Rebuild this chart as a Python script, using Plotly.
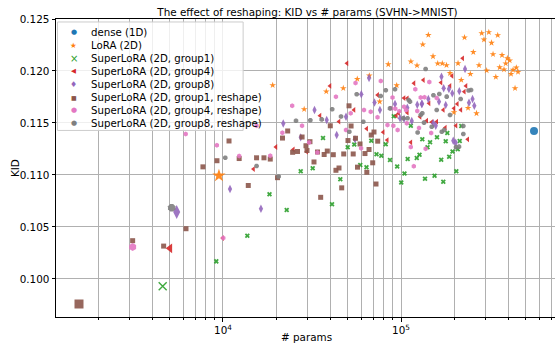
import numpy as np
import plotly.graph_objects as go

# ---------------- data ----------------
dense_params = [558600]
dense_kid = [0.11423]

lora_params = [142400, 132500, 113600, 123000, 151300, 160800, 170600, 180100, 209100, 227400,
               284000, 311400, 349400, 292500, 322500, 254800, 328800, 369400, 395600, 408000,
               387400, 358400, 378900, 444300, 425900, 454300, 414800, 302900, 340900, 274300,
               245200, 217900, 188500, 437100, 265500, 238000, 198500, 94570, 84830, 66380,
               56800, 47400, 38040, 28580, 75890, 19020, 9490]
lora_kid = [0.12346, 0.12255, 0.12091, 0.12053, 0.12141, 0.12072, 0.12072, 0.12055, 0.12074, 0.12322,
            0.12363, 0.12373, 0.12344, 0.12301, 0.12271, 0.12181, 0.12161, 0.12152, 0.12122, 0.12101,
            0.12072, 0.12034, 0.12014, 0.12032, 0.12010, 0.11990, 0.11971, 0.12005, 0.11942, 0.12055,
            0.11971, 0.11913, 0.11979, 0.11834, 0.11593, 0.11644, 0.11603, 0.11861, 0.12064, 0.11955,
            0.11923, 0.11834, 0.11803, 0.11632, 0.11705, 0.11863, 0.10993]

g1_params = [36470, 27330, 31910, 50190, 54630, 59040, 63980, 72840, 77520, 82050,
             68080, 86740, 95190, 104600, 109000, 100300, 45610, 91090, 113500, 122600,
             127000, 131700, 140900, 145600, 159300, 154300, 178300, 182000, 168200, 186500,
             194700, 208300, 213700, 218100, 136400, 172800, 204500, 40960, 22800, 18250,
             13700, 9170, 4584]
g1_kid = [0.11355, 0.11035, 0.11064, 0.11266, 0.11293, 0.11096, 0.11075, 0.11200, 0.11184, 0.11295,
          0.11329, 0.11144, 0.11081, 0.11014, 0.11153, 0.10927, 0.10958, 0.11565, 0.11474, 0.11163,
          0.11195, 0.11344, 0.11266, 0.11314, 0.11362, 0.10993, 0.11325, 0.11404, 0.11147, 0.11176,
          0.11226, 0.11247, 0.11327, 0.11471, 0.10964, 0.10935, 0.11035, 0.10718, 0.10663, 0.10815,
          0.10416, 0.10169, 0.09929]

g4_params = [49720, 39910, 35070, 54430, 73980, 44840, 64170, 79430, 83720, 29530,
             104000, 97060, 94120, 118300, 133500, 167800, 193500, 222000, 188500, 231800,
             226800, 108500, 143700, 172800, 207100, 198500, 216900, 108500, 127900, 139500,
             148800, 158700, 177400, 203700, 113600, 237100, 19840, 24830, 14840, 9961, 5038]
g4_kid = [0.12074, 0.11856, 0.11570, 0.11625, 0.11769, 0.11514, 0.11445, 0.11411, 0.11336, 0.11224,
          0.11740, 0.11593, 0.11570, 0.11882, 0.11913, 0.11889, 0.11952, 0.12122, 0.11856, 0.11856,
          0.11801, 0.11737, 0.11689, 0.11625, 0.11683, 0.11641, 0.11625, 0.11599, 0.11560, 0.11522,
          0.11509, 0.11512, 0.11455, 0.11474, 0.11314, 0.11343, 0.11269, 0.11245, 0.11057, 0.10393, 0.10294]

g8_params = [66130, 32670, 21810, 43520, 49090, 59830, 71000, 76170, 92520, 98760,
             104000, 38250, 55130, 130700, 168800, 228900, 173700, 185900, 194100, 212500,
             252200, 258100, 240900, 142400, 131300, 123400, 163500, 178300, 108500, 114900,
             151900, 156700, 196600, 202900, 27330, 10950, 16340, 5494]
g8_kid = [0.11933, 0.11625, 0.11495, 0.11384, 0.11560, 0.11776, 0.11697, 0.11625, 0.11683, 0.11545,
          0.11541, 0.11529, 0.11343, 0.11683, 0.11945, 0.12019, 0.11834, 0.11827, 0.11785, 0.11806,
          0.11731, 0.11665, 0.11695, 0.11731, 0.11685, 0.11676, 0.11705, 0.11673, 0.11647, 0.11519,
          0.11497, 0.11474, 0.11329, 0.11310, 0.11362, 0.10865, 0.10675, 0.10644]

g1r_params = [10810, 9250, 7716, 12330, 15440, 16990, 18430, 21590, 23090, 24620,
              26220, 29250, 29640, 20240, 13870, 51040, 52420, 40070, 27820, 30800,
              33970, 38540, 37010, 41650, 47670, 53890, 55530, 58860, 66130, 62750,
              73980, 68030, 70510, 50380, 32450, 43100, 44840, 56960, 64260, 69350,
              46440, 35380, 72360, 6197, 3108, 4641, 1553]
g1r_kid = [0.11327, 0.11137, 0.11078, 0.11158, 0.11165, 0.11165, 0.11153, 0.11355, 0.11423, 0.11218,
           0.11226, 0.11281, 0.11235, 0.10974, 0.10899, 0.11665, 0.11471, 0.11473, 0.11365, 0.11320,
           0.11221, 0.11230, 0.11197, 0.11195, 0.11202, 0.11202, 0.11353, 0.11298, 0.11245, 0.11206,
           0.11325, 0.11384, 0.11413, 0.11331, 0.11125, 0.11045, 0.11067, 0.11075, 0.11026, 0.11117,
           0.10876, 0.10785, 0.10913, 0.10483, 0.10368, 0.10316, 0.09759]

g4r_params = [6174, 9240, 12330, 15440, 18430, 24470, 21560, 27800, 30470, 33910,
              43100, 55530, 76990, 61960, 52170, 67580, 73790, 83950, 87900, 92920,
              104000, 97800, 106700, 89600, 120300, 144200, 129000, 135500, 158700, 90540,
              95750, 49090, 59680, 113500, 118000, 147700, 126200, 137500, 123400, 107800,
              3108, 10040]
g4r_kid = [0.11394, 0.11285, 0.11182, 0.11473, 0.11184, 0.11665, 0.11406, 0.11474, 0.11312, 0.11216,
           0.11753, 0.11885, 0.11904, 0.11625, 0.11593, 0.11608, 0.11555, 0.11481, 0.11641, 0.11636,
           0.11657, 0.11612, 0.11625, 0.11745, 0.11824, 0.11894, 0.11745, 0.11747, 0.11740, 0.11474,
           0.11432, 0.11432, 0.11256, 0.11269, 0.11084, 0.11404, 0.11452, 0.11253, 0.11615, 0.11497,
           0.10307, 0.10393]

g8r_params = [10300, 15440, 25710, 20550, 137500, 41060, 30950, 35850, 46030, 56380,
              61400, 82120, 92520, 76890, 86740, 103000, 108800, 51250, 110400, 152100,
              164100, 180600, 216300, 239700, 247400, 112300, 129000, 131700, 158700, 188500,
              148800, 134700, 169400, 174800, 223900, 124000, 223900, 203700, 211700, 5150]
g8r_kid = [0.11165, 0.11086, 0.11522, 0.10985, 0.12019, 0.11632, 0.11526, 0.11535, 0.11562, 0.11776,
           0.11512, 0.11815, 0.11824, 0.11759, 0.11641, 0.11545, 0.11545, 0.11416, 0.11721, 0.11767,
           0.11779, 0.11753, 0.11731, 0.11812, 0.11817, 0.11705, 0.11577, 0.11593, 0.11625, 0.11577,
           0.11464, 0.11503, 0.11416, 0.11432, 0.11394, 0.11408, 0.11471, 0.11266, 0.11272, 0.10685]

series_names = ["dense (1D)", "LoRA (2D)", "SuperLoRA (2D, group1)", "SuperLoRA (2D, group4)",
                "SuperLoRA (2D, group8)", "SuperLoRA (2D, group1, reshape)",
                "SuperLoRA (2D, group4, reshape)", "SuperLoRA (2D, group8, reshape)"]
x_ticks = [1e4, 1e5]
x_tick_labels = ["10<sup>4</sup>", "10<sup>5</sup>"]
y_ticks = [0.100, 0.105, 0.110, 0.115, 0.120, 0.125]
chart_title = "The effect of reshaping: KID vs # params (SVHN->MNIST)"
x_title = "# params"
y_title = "KID"

# ---------------- styling ----------------
colors = ["#1f77b4", "#ff7f0e", "#2ca02c", "#d62728", "#9467bd", "#8c564b", "#e377c2", "#7f7f7f"]
symbols = ["circle", "star", "x", "triangle-left", "diamond-tall", "square", "hexagon", "octagon"]
big_symbols = ["circle", "star", "x-thin", "triangle-left", "diamond-tall", "square", "hexagon", "octagon"]
small_size = [8, 5, 4.5, 5, 6, 5, 5, 5]
big_size = [8, 10, 8, 8.5, 10, 9, 8, 8]
# legend glyphs (drawn as text so they sit above the legend box)
legend_glyphs = ["\u25CF", "\u2605", "\u00D7", "\u25C0", "\u2666", "\u25A0", "\u25CF", "\u25CF"]
legend_glyph_size = [7, 7.5, 10, 6.5, 8, 6, 7, 7]

all_params = [dense_params, lora_params, g1_params, g4_params, g8_params, g1r_params, g4r_params, g8r_params]
all_kid = [dense_kid, lora_kid, g1_kid, g4_kid, g8_kid, g1r_kid, g4r_kid, g8r_kid]

fig = go.Figure()
for i, name in enumerate(series_names):
    p = np.array(all_params[i], dtype=float)
    is_big = p == p.min()
    sizes = np.where(is_big, big_size[i], small_size[i])
    syms = np.where(is_big, big_symbols[i], symbols[i])
    lw = np.where(syms == "x-thin", 1.4, 0)
    fig.add_trace(go.Scatter(
        x=all_params[i], y=all_kid[i], mode="markers", name=name,
        marker=dict(color=colors[i], size=sizes.tolist(), symbol=syms.tolist(), opacity=0.9,
                    line=dict(color=colors[i], width=lw.tolist())),
        showlegend=False,
    ))

# minor grid positions
minor_vals = [m * 10 ** e for e in (3, 4, 5) for m in range(2, 10) if m * 10 ** e < 8e5]

# ---------------- manual legend (compact, matplotlib-like) ----------------
leg_step = 0.0438
leg_first = 0.956
leg_ys = [leg_first - k * leg_step for k in range(len(series_names))]
annotations = []
for k, name in enumerate(series_names):
    annotations.append(dict(x=0.036, y=leg_ys[k], xref="paper", yref="paper", text=legend_glyphs[k],
                            showarrow=False, xanchor="center", yanchor="middle",
                            font=dict(family="DejaVu Sans", size=legend_glyph_size[k], color=colors[k])))
    annotations.append(dict(x=0.066, y=leg_ys[k], xref="paper", yref="paper", text=name,
                            showarrow=False, xanchor="left", yanchor="middle",
                            font=dict(family="DejaVu Sans", size=10.2, color="black")))

# axis titles
annotations.append(dict(x=0.503, y=-0.068, xref="paper", yref="paper", text=x_title, showarrow=False,
                        xanchor="center", yanchor="middle", font=dict(size=10.4, color="black")))
annotations.append(dict(x=-0.082, y=0.5, xref="paper", yref="paper", text=y_title, showarrow=False,
                        textangle=-90, xanchor="center", yanchor="middle", font=dict(size=10.4, color="black")))

fig.update_layout(
    width=555, height=350,
    margin=dict(l=56, r=0, t=19, b=33),
    paper_bgcolor="white", plot_bgcolor="white",
    font=dict(family="DejaVu Sans", size=10.4, color="black"),
    title=dict(text=chart_title, x=0.554, y=0.966, xref="container", yref="container",
               xanchor="center", yanchor="middle", font=dict(size=10.4)),
    showlegend=False,
    xaxis=dict(type="log", range=[3.062, 5.865], tickvals=x_ticks, ticktext=x_tick_labels,
               showgrid=True, gridcolor="#b0b0b0", gridwidth=1,
               minor=dict(tickvals=minor_vals, showgrid=True, gridcolor="#b0b0b0", gridwidth=1,
                          ticks="outside", ticklen=2, tickcolor="black"),
               ticks="outside", ticklen=3.5, tickcolor="black",
               showline=True, linecolor="black", linewidth=1, mirror=True, zeroline=False,
               automargin=False),
    yaxis=dict(range=[0.09634, 0.12500], tickvals=y_ticks, tickformat=".3f",
               showgrid=True, gridcolor="#b0b0b0", gridwidth=1,
               ticks="outside", ticklen=3.5, tickcolor="black",
               showline=True, linecolor="black", linewidth=1, mirror=False, zeroline=False,
               automargin=False),
    shapes=[dict(type="rect", xref="paper", yref="paper", x0=0.003, x1=0.375,
                 y0=0.626, y1=0.990, fillcolor="rgba(255,255,255,0.8)",
                 line=dict(color="#cccccc", width=1), layer="above")],
    annotations=annotations,
)

fig.write_html("out.html")
